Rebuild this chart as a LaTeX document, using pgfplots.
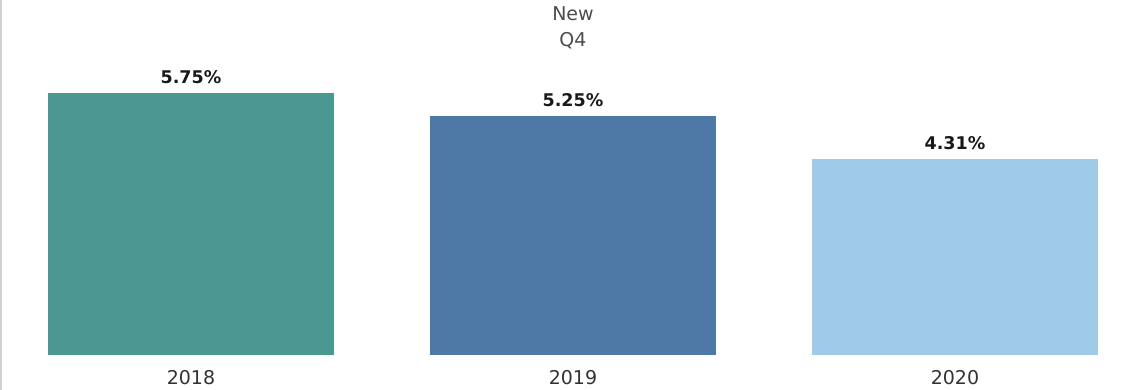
\documentclass[border=0pt]{standalone}
\usepackage{pgfplots}
\pgfplotsset{compat=1.18}
\usepackage{fontspec}
\setmainfont{DejaVu Sans}
\definecolor{cA}{HTML}{4A9891}
\definecolor{cB}{HTML}{4E79A7}
\definecolor{cC}{HTML}{A0CBE8}
\definecolor{txt}{HTML}{333333}
\begin{document}
\fontsize{17.5}{21}\selectfont
\begin{tikzpicture}
\begin{axis}[
  at={(0pt,35pt)}, anchor=south west,
  scale only axis, width=1146pt, height=355pt,
  xmin=-0.5, xmax=2.5, ymin=0, ymax=7.79,
  axis line style={draw=none}, tick style={draw=none},
  ytick=\empty,
  xtick={0,1,2}, xticklabels={2018,2019,2020},
  xticklabel style={anchor=base, yshift=-25pt, text=txt, font=\fontsize{19}{22}\selectfont},
  ybar, bar width=0.748, bar shift=0pt,
  /pgf/number format/assume math mode=true,
  nodes near coords={\pgfmathprintnumber[fixed,fixed zerofill,precision=2]{\pgfplotspointmeta}\%},
  every node near coord/.append style={anchor=base, yshift=9pt, font=\bfseries\fontsize{17.5}{21}\selectfont, text=black!90},
  clip=false,
]
\addplot[fill=cA, draw=none] coordinates {(0,5.75)};
\addplot[fill=cB, draw=none] coordinates {(1,5.25)};
\addplot[fill=cC, draw=none] coordinates {(2,4.31)};
\node[text=black!70, font=\fontsize{19}{22}\selectfont] at (rel axis cs:0.5,0.9606) {New};
\node[text=black!70, font=\fontsize{19}{22}\selectfont] at (rel axis cs:0.5,0.8845) {Q4};
\end{axis}
\draw[black!18, line width=1.5pt] (0.75pt,0pt) -- (0.75pt,390pt);
\pgfresetboundingbox
\useasboundingbox (0pt,0pt) rectangle (1143pt,390pt);
\end{tikzpicture}
\end{document}
